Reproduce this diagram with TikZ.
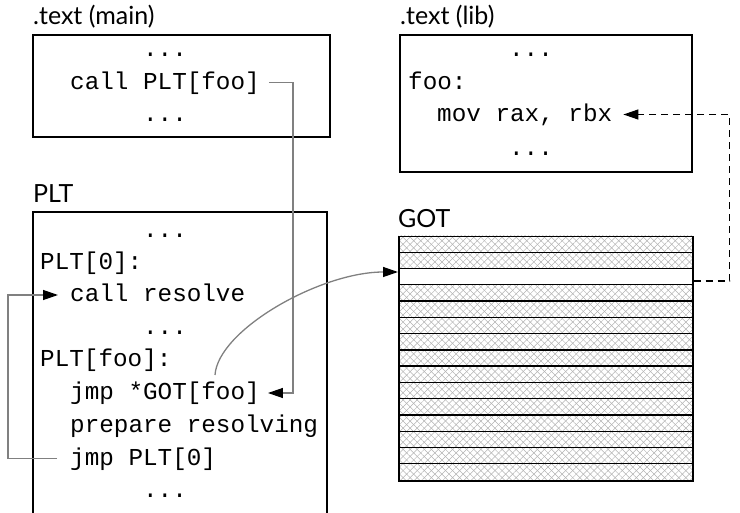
\documentclass[tikz,border=0pt]{standalone}
\usepackage{fontspec}
\setmainfont{Lato}
\newfontfamily\codefont{Liberation Mono}
\usetikzlibrary{arrows.meta,patterns.meta,calc}
\begin{document}
\begin{tikzpicture}[x=1pt,y=-1pt,
  box/.style={draw=black,line width=1.5pt},
  code/.style={font=\codefont\fontsize{24.3}{28}\selectfont,inner sep=0pt,anchor=base west},
  dots/.style={font=\codefont\fontsize{24.3}{28}\selectfont,inner sep=0pt,anchor=base},
  lab/.style={font=\fontsize{25}{30}\selectfont,inner sep=0pt,anchor=base west},
  conn/.style={draw=black!50,line width=1.3pt},
  tipend/.style={-{Triangle[length=15pt,width=10pt,color=black,fill=black]}},
  hatchA/.style={pattern={Lines[angle=45,distance=5pt,line width=0.5pt]},pattern color=black!30},
  hatchB/.style={pattern={Lines[angle=-45,distance=5pt,line width=0.5pt]},pattern color=black!30}]
\useasboundingbox (0,0) rectangle (740,513);

% section labels
\node[lab] (lmain) at (33,25) {.text (main)};
\node[lab] (llib) at (400,25) {.text (lib)};
\node[lab] (lplt) at (33,203) {PLT};
\node[lab] (lgot) at (398,228) {GOT};

% .text (main)
\draw[box] (33,35) rectangle (330,137);
\node[dots] (m1) at (165,57) {...};
\node[code] (callplt) at (70,89.5) {call PLT[foo]};
\node[dots] (m3) at (165,122) {...};

% .text (lib)
\draw[box] (400,35) rectangle (692,172);
\node[dots] (b1) at (531,57) {...};
\node[code] (foo) at (408,89.7) {foo:};
\node[code] (movrbx) at (437,121.5) {mov rax, rbx};
\node[dots] (b4) at (531,156) {...};

% PLT (runs off the bottom)
\draw[box] (33,513) -- (33,212) -- (327,212) -- (327,513);
\node[dots] (p1) at (165,237.5) {...};
\node[code] (plt0) at (40,270) {PLT[0]:};
\node[code] (callres) at (70,302) {call resolve};
\node[dots] (p4) at (165,335) {...};
\node[code] (pltfoo) at (40,367) {PLT[foo]:};
\node[code] (jmpgot) at (70,400) {jmp *GOT[foo]};
\node[code] (prep) at (70,432) {prepare resolving};
\node[code] (jmpplt) at (70,465.5) {jmp PLT[0]};
\node[dots] (p9) at (165,497) {...};

% GOT table
\foreach \i in {0,...,14}{
  \ifnum\i=2\else
    \fill[hatchA] (398,236+\i*16.2667) rectangle (692,236+\i*16.2667+16.2667);
    \fill[hatchB] (398,236+\i*16.2667) rectangle (692,236+\i*16.2667+16.2667);
  \fi
}
\foreach \i in {1,...,14}{
  \draw[line width=1.3pt] (398,236+\i*16.2667) -- (692,236+\i*16.2667);
}
\node[box,anchor=north west,inner sep=0pt,minimum width=294pt,minimum height=244pt] (got) at (398,236) {};
\coordinate (gotin) at ($(got.north west)+(0,36)$);
\coordinate (gotout) at ($(got.north east)+(0,45)$);

% connectors
\draw[conn,tipend] ([xshift=9pt,yshift=7pt]callplt.base east) -- ++(24,0) |- ([xshift=8pt,yshift=7pt]jmpgot.base east);
\draw[conn,tipend] ([xshift=-13pt,yshift=7pt]jmpplt.base west) -- ++(-49,0) |- ([xshift=-12pt,yshift=7pt]callres.base west);
\draw[conn,tipend] ($(jmpgot.base west)+(145,-25)$) .. controls +(3,-45) and (320,272) .. (gotin);
\draw[line width=1.2pt,dash pattern=on 7pt off 5pt,tipend] (gotout) -- ++(36,0) |- ([xshift=11pt,yshift=7pt]movrbx.base east);
\end{tikzpicture}
\end{document}
